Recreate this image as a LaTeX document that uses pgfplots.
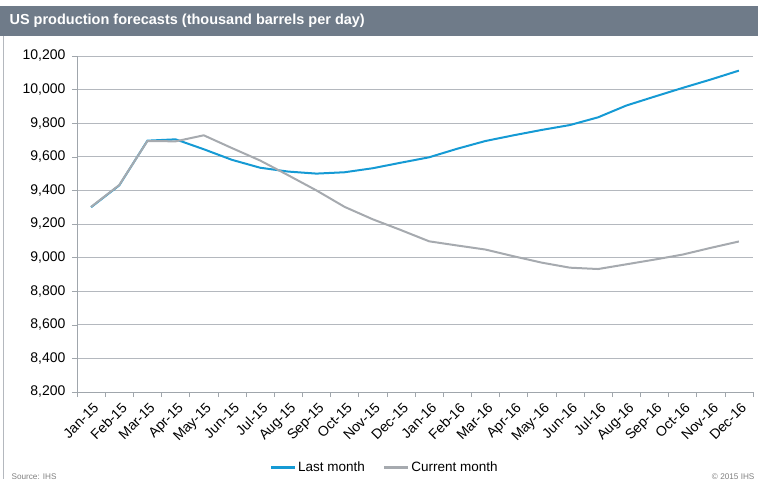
\documentclass[border=0pt]{standalone}
\usepackage{pgfplots}
\pgfplotsset{compat=1.18}
\usepackage{fontspec}
\setmainfont{Liberation Sans}
\definecolor{lastblue}{RGB}{21,154,212}
\definecolor{curgray}{RGB}{166,170,175}
\definecolor{titlebar}{RGB}{111,123,137}
\definecolor{gridc}{RGB}{180,184,190}
\definecolor{axisc}{RGB}{160,166,172}
\begin{document}
\begin{tikzpicture}[x=1pt,y=1pt]
\useasboundingbox (0,0) rectangle (758,483);
\fill[titlebar] (0,447) rectangle (758,477);
\node[anchor=west,text=white,font=\fontsize{14.5}{16}\selectfont\bfseries] at (6,462) {US production forecasts (thousand barrels per day)};
\draw[gridc,line width=0.8pt] (3,447) -- (3,4);
\node[anchor=west,text=gray,font=\fontsize{8.2}{9}\selectfont] at (8,6) {Source: IHS};
\node[anchor=east,text=gray,font=\fontsize{8.2}{9}\selectfont] at (758,6) {\textcopyright{} 2015 IHS};
\begin{axis}[
  at={(77pt,91pt)}, anchor=south west,
  scale only axis, width=676pt, height=336pt,
  xmin=-0.5, xmax=23.5,
  ymin=8200, ymax=10200,
  ytick={8200,8400,...,10200},
  scaled y ticks=false,
  yticklabel={\pgfmathprintnumber[fixed,precision=0,1000 sep={,},assume math mode=true]{\tick}},
  yticklabel style={font=\fontsize{14}{16}\selectfont, xshift=-3pt},
  xtick={0,...,23},
  xticklabels={Jan-15,Feb-15,Mar-15,Apr-15,May-15,Jun-15,Jul-15,Aug-15,Sep-15,Oct-15,Nov-15,Dec-15,Jan-16,Feb-16,Mar-16,Apr-16,May-16,Jun-16,Jul-16,Aug-16,Sep-16,Oct-16,Nov-16,Dec-16},
  xticklabel style={rotate=45, anchor=north east, font=\fontsize{14}{16}\selectfont, xshift=1pt, yshift=-1pt},
  major x tick style={draw=none},
  minor xtick={-0.5,0.5,...,23.5},
  minor x tick style={axisc, line width=0.6pt},
  tick align=outside,
  major tick length=5pt, minor tick length=5pt,
  ytick style={axisc, line width=0.6pt},
  ymajorgrids, grid style={gridc, line width=1pt},
  axis x line*=bottom, axis y line*=left,
  axis line style={axisc, line width=0.8pt, -},
  legend style={at={(0.455,-0.225)}, anchor=center, draw=none, fill=none,
    legend columns=2, font=\fontsize{13.5}{15}\selectfont,
    /tikz/every even column/.append style={column sep=16pt}},
  legend image code/.code={\draw[#1, line width=2.5pt] (0pt,0pt) -- (24pt,0pt);},
]
\addplot[lastblue, line width=2pt] coordinates {
(0,9300) (1,9430) (2,9696) (3,9704) (4,9645) (5,9582) (6,9535) (7,9512) (8,9500) (9,9508)
(10,9532) (11,9565) (12,9597) (13,9648) (14,9694) (15,9728) (16,9760) (17,9789) (18,9835)
(19,9905) (20,9958) (21,10010) (22,10060) (23,10113)};
\addlegendentry{Last month}
\addplot[curgray, line width=2pt] coordinates {
(0,9302) (1,9432) (2,9694) (3,9692) (4,9728) (5,9652) (6,9578) (7,9490) (8,9400) (9,9302)
(10,9228) (11,9164) (12,9097) (13,9072) (14,9048) (15,9008) (16,8970) (17,8940) (18,8932)
(19,8960) (20,8988) (21,9018) (22,9058) (23,9096)};
\addlegendentry{Current month}
\end{axis}
\end{tikzpicture}
\end{document}
